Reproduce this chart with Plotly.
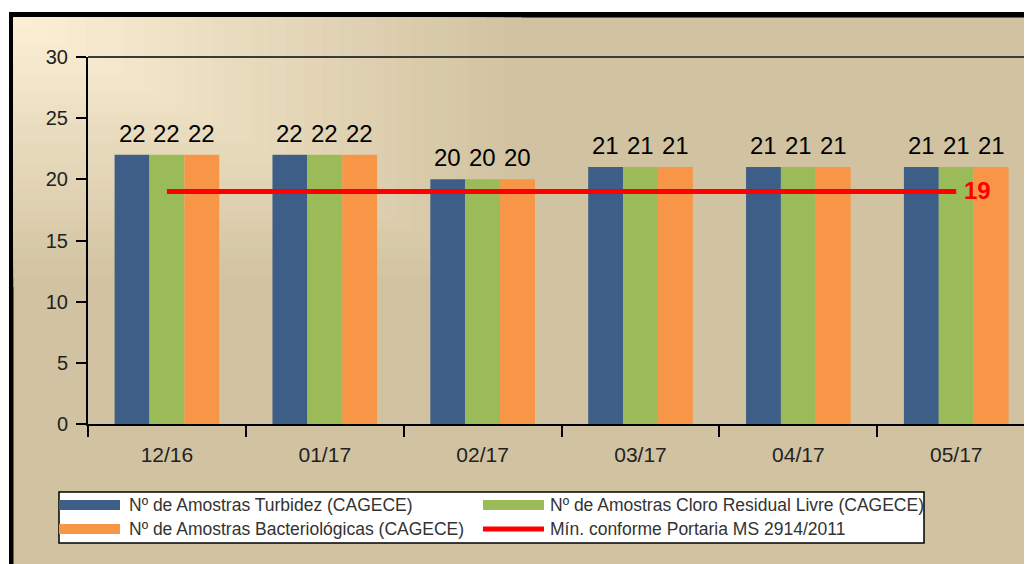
import plotly.graph_objects as go

# data
categories = ['12/16', '01/17', '02/17', '03/17', '04/17', '05/17']
turbidez = [22, 22, 20, 21, 21, 21]
cloro = [22, 22, 20, 21, 21, 21]
bacteriologicas = [22, 22, 20, 21, 21, 21]
minimo = [19, 19, 19, 19, 19, 19]

series_names = [
    'Nº de Amostras Turbidez (CAGECE)',
    'Nº de Amostras Cloro Residual Livre (CAGECE)',
    'Nº de Amostras Bacteriológicas (CAGECE)',
    'Mín. conforme Portaria MS 2914/2011',
]
y_ticks = [0, 5, 10, 15, 20, 25, 30]

BLUE = '#3D5F87'
GREEN = '#9BBB59'
ORANGE = '#F79646'
RED = '#FF0000'
TAN = (209, 195, 161)
CREAM = (252, 239, 212)
FONT = 'Liberation Sans, Arial, sans-serif'

# the page body adds an 8px margin, so the figure starts at (8, 8)
OFF = 8
W, H = 1032 - OFF, 564 - OFF
L, T = 88, 57            # plot area left / top in page pixels
BOTTOM = 424             # page y of the x axis
PW = 1032 - L
PH = BOTTOM - T
BARGAP = 0.337


def px(x):
    return (x - L) / PW


def py(y):
    return (BOTTOM - y) / PH


fig = go.Figure()

annotations = []
bar_w = (1 - BARGAP) / 3
for k, (vals, name, color) in enumerate(zip([turbidez, cloro, bacteriologicas],
                                            series_names[:3], [BLUE, GREEN, ORANGE])):
    fig.add_trace(go.Bar(
        x=categories, y=vals, name=name, marker=dict(color=color, line_width=0),
    ))
    for i, v in enumerate(vals):
        annotations.append(dict(
            x=i + (k - 1) * bar_w, y=v, xref='x', yref='y', text=str(v),
            showarrow=False, yanchor='bottom', yshift=6,
            font=dict(size=24, color='#000000', family=FONT),
        ))

fig.add_trace(go.Scatter(
    x=categories, y=minimo, name=series_names[3], mode='lines',
    line=dict(color=RED, width=5),
))
annotations.append(dict(
    x=categories[-1], y=minimo[-1], xref='x', yref='y', text=f'<b>{minimo[-1]}</b>',
    showarrow=False, xanchor='left', yanchor='middle', xshift=6, yshift=1,
    font=dict(size=24, color=RED, family=FONT),
))

shapes = []
# black frame and tan background
shapes.append(dict(type='rect', xref='paper', yref='paper', layer='below',
                   x0=px(9), x1=px(1080), y0=py(12), y1=py(620),
                   fillcolor='#000000', line_width=0))
shapes.append(dict(type='rect', xref='paper', yref='paper', layer='below',
                   x0=px(13.5), x1=px(1080), y0=py(17.5), y1=py(620),
                   fillcolor='rgb(%d,%d,%d)' % TAN, line_width=0))
# stepped gradient from the top-left corner
n = 28
gx0, gy0, gx1, gy1 = 13.5, 17.5, 522, 287
for i in range(n):
    f = i / (n - 1)
    c = tuple(round(a + (b - a) * f) for a, b in zip(TAN, CREAM))
    xe = gx0 + (gx1 - gx0) * (1 - i / n)
    ye = gy0 + (gy1 - gy0) * (1 - i / n)
    shapes.append(dict(type='rect', xref='paper', yref='paper', layer='below',
                       x0=px(gx0), x1=px(xe), y0=py(gy0), y1=py(ye),
                       fillcolor='rgb(%d,%d,%d)' % c, line_width=0))
# top frame line of the plot area
shapes.append(dict(type='line', xref='paper', yref='paper', x0=0, x1=1, y0=1, y1=1,
                   line=dict(color='#3A3A3A', width=2)))

# legend box
shapes.append(dict(type='rect', xref='paper', yref='paper',
                   x0=px(59), x1=px(924), y0=py(492), y1=py(543),
                   fillcolor='#FFFFFF', line=dict(color='#000000', width=1.5)))
legend_pos = [(59, 127, 505), (483, 548, 505), (59, 127, 529), (483, 548, 529)]
legend_colors = [BLUE, GREEN, ORANGE, RED]
for (sx, tx, cy), color, name in zip(legend_pos, legend_colors, series_names):
    hh = 2.5 if color == RED else 5
    shapes.append(dict(type='rect', xref='paper', yref='paper',
                       x0=px(sx), x1=px(sx + 61), y0=py(cy - hh), y1=py(cy + hh),
                       fillcolor=color, line_width=0))
    annotations.append(dict(xref='paper', yref='paper', x=px(tx), y=py(cy),
                            xanchor='left', yanchor='middle', showarrow=False,
                            text=name, font=dict(size=17.5, color='#333333', family=FONT)))

fig.update_layout(
    width=W, height=H,
    margin=dict(l=L - OFF, r=0, t=T - OFF, b=H - (BOTTOM - OFF)),
    paper_bgcolor='#FFFFFF', plot_bgcolor='rgba(0,0,0,0)',
    barmode='group', bargap=BARGAP, bargroupgap=0,
    showlegend=False,
    font=dict(family=FONT, color='#222222'),
    shapes=shapes, annotations=annotations,
    xaxis=dict(
        type='category', range=[-0.5, len(categories) - 0.5 - 0.02],
        showgrid=False, showline=True, linecolor='#000000', linewidth=2,
        ticks='outside', tickson='boundaries', ticklen=11, tickcolor='#000000',
        tickwidth=1.5, tickfont=dict(size=21, color='#222222'), ticklabelstandoff=11,
    ),
    yaxis=dict(
        range=[0, 30], tickvals=y_ticks, showgrid=False, zeroline=False,
        showline=True, linecolor='#000000', linewidth=2,
        ticks='outside', ticklen=10, tickcolor='#000000', tickwidth=1.5,
        tickfont=dict(size=20, color='#222222'), ticklabelstandoff=4,
    ),
)

fig.write_html('out.html')
